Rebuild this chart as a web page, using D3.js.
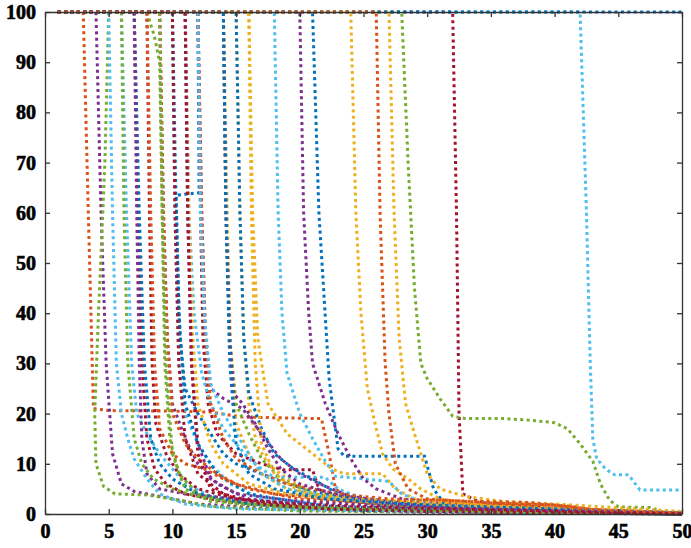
<!DOCTYPE html>
<html>
<head>
<meta charset="utf-8">
<script src="https://cdn.jsdelivr.net/npm/d3@7"></script>
<style>
  body { margin: 0; background: #fff; }
  .tick text { font-family: "Liberation Serif", serif; font-weight: bold; font-size: 20px; fill: #000; stroke: #000; stroke-width: 0.6; }
  .domain, .tick line { stroke: #333; stroke-width: 1.3; }
</style>
</head>
<body>
<script>
var width = 691, height = 548;
var margin = {top: 12, right: 9, bottom: 34, left: 45};

var xTicks = [0, 5, 10, 15, 20, 25, 30, 35, 40, 45, 50];
var yTicks = [0, 10, 20, 30, 40, 50, 60, 70, 80, 90, 100];

// MATLAB default colour order
var palette = {
  b: "#0072BD", o: "#D95319", y: "#EDB120", p: "#7E2F8E",
  g: "#77AC30", c: "#4DBEEE", r: "#A2142F"
};

// colour of each series, same order as series below
var seriesColors = [
  "r", "c", "g", "o", "p", "g", "c", "r", "r", "g", "p", "c", "b",
  "y", "y", "y", "c", "p", "b", "y", "y", "b", "p", "c", "r", "o",
  "g", "b", "c", "p", "b", "g", "y", "o", "c", "o", "p",
  "g", "y", "b", "p", "r", "r", "b", "o"
];

var series = [
  // drop at 32
  [[1,100],[32,100],[32.3,60],[32.5,20],[32.8,4],[34,2.5],[37,1.8],[40,1],[45,0.3],[50,0]],
  // drop at 42
  [[1,100],[42,100],[42.5,60],[42.8,30],[43,15],[43.3,11],[44,9],[44.7,7.8],[45.8,7.8],[46.7,4.8],[50,4.8]],
  // drop at 28, long plateau at 19
  [[1,100],[28,100],[28.5,70],[29,45],[29.5,30],[30,27],[31,23],[32,19.5],[33,19],[36,19],[38,18.7],[40,18.2],[41,17],[42,14],[43,10.5],[43.6,6],[44.3,2.8],[45,1.4],[47.5,1.3],[48.5,0.4],[50,0]],
  // drop at 3, plateau at 20
  [[1,100],[3,100],[3.4,60],[3.8,21],[5,20.6],[10,20.5],[13,20.3],[15.5,19.3],[21.7,19],[22.3,12],[22.8,5],[24,3],[30,2.2],[40,1.8],[42,1],[50,0.3]],
  [[1,100],[4,100],[4.4,60],[4.8,30],[5.3,12],[6,6],[7,4.5],[9,3.5],[12,2],[18,1],[30,0.3],[50,0]],
  [[1,100],[5,100],[4.7,70],[4.2,40],[3.9,20],[4,10],[4.6,5.5],[5.5,4],[8,3.8],[10,3],[13,1.5],[20,0.6],[50,0]],
  [[1,100],[6,100],[6.4,60],[6.8,30],[7.2,20],[8,16],[9,12],[10,9],[11,6],[13,3.5],[18,1.5],[30,0.5],[50,0]],
  [[1,100],[7,100],[7.3,60],[7.6,30],[8,15],[8.6,9],[9.5,6],[11,4],[14,2.5],[20,1.2],[35,0.3],[50,0]],
  [[1,100],[8,100],[8.2,60],[8.4,30],[8.7,18],[9.5,12],[10.5,8],[12,5],[15,3],[22,1],[50,0]],
  [[1,100],[8,100],[8.6,95],[9,90],[9.2,60],[9.4,30],[9.8,15],[10.5,8],[12,4],[15,2],[25,0.8],[50,0]],
  [[1,100],[9,100],[9.3,60],[9.6,35],[10,22],[11,15],[12,10],[13.5,6],[16,3],[22,1.2],[50,0]],
  [[1,100],[10,100],[10.2,60],[10.5,30],[11,20],[12,14],[13,10],[14.5,6],[17,3],[25,1],[50,0]],
  // drop at 12, shoulder at 63
  [[1,100],[12,100],[12.1,64],[10.3,63.5],[10.5,40],[11,22],[12,14],[13.5,8],[16,4],[22,1.5],[50,0]],
  [[1,100],[14,100],[14.3,60],[14.6,30],[15,18],[16,12],[17,8],[19,5],[23,3],[30,1.5],[50,0.2]],
  [[1,100],[15,100],[15.3,60],[15.6,35],[16,22],[16.6,14],[17.5,10],[19,7],[21,4],[26,2],[35,0.8],[50,0]],
  // plateau at 8
  [[1,100],[16,100],[16.3,60],[16.7,35],[17.5,22],[19,16],[21,12],[22.5,9],[23.5,8],[26.5,8],[27.5,5],[29,3],[35,1.5],[50,0.2]],
  [[1,100],[18,100],[18.3,60],[18.6,40],[19,28],[20,20],[21,15],[22,10.5],[22.8,7.5],[25,7],[27,6.5],[28,4],[30,2],[40,0.5],[50,0]],
  [[1,100],[20,100],[20.3,60],[20.7,40],[21,30],[22,22],[23,16],[24,11],[25,7],[26,5],[28,3],[33,1.5],[50,0.1]],
  // drop at 21, plateau at 11.5
  [[1,100],[21,100],[21.5,60],[22.3,27],[23,13],[23.5,11.5],[29.8,11.5],[30.5,5],[31.5,1.5],[40,0.5],[50,0]],
  [[1,100],[24,100],[24.4,60],[24.8,40],[25.3,25],[26,17],[26.5,12],[27.3,9],[28.5,7],[29.5,5],[31,3],[35,1.5],[50,0]],
  [[1,100],[27,100],[27.4,60],[27.8,35],[28.3,22],[29,16],[29.5,12],[30,8],[31,5],[33,3.5],[36,2.5],[40,2],[50,0.5]],
  [[1,100],[7,100],[7.4,60],[7.8,30],[8.3,15],[9,10],[10,7],[12,4],[16,2],[25,0.7],[50,0]],
  [[1,100],[7,100],[7.2,60],[7.4,30],[7.6,15],[8,8],[9,5],[11,4],[15,3],[22,1.5],[35,0.5],[50,0]],
  [[1,100],[5,100],[5.3,60],[5.6,30],[6,20],[6.5,15],[7,11],[8,7],[9,4],[11,2],[15,1],[50,0]],
  // plateau at 8.8
  [[1,100],[12,100],[12.2,60],[12.4,35],[12.8,22],[13.5,16],[15,12],[17,10],[18.7,8.8],[21,8.8],[21.5,5],[22.5,3],[26,2],[35,1],[50,0]],
  [[1,100],[8,100],[8.3,60],[8.6,30],[9,17],[10,12],[11,10],[12.5,9],[14,7],[16,5],[20,3],[30,1.5],[40,0.8],[50,0.2]],
  [[1,100],[6,100],[6.2,60],[6.5,30],[7,15],[7.6,10],[8.5,7],[10,5],[12,3.5],[16,2],[25,1],[50,0]],
  [[1,100],[10,100],[10.3,60],[10.6,35],[11,25],[12,20],[13,16],[14,12],[15,10],[17,8],[19,6],[22,4],[28,2],[40,0.5],[50,0]],
  // plateau at 7.3
  [[1,100],[11,100],[11.3,60],[11.7,40],[12.3,28],[13,22],[14,17],[15,14],[16,11],[17,9],[18,7.3],[22,7.3],[23,5],[25,3],[30,1.5],[50,0]],
  [[1,100],[12,100],[12.3,60],[12.6,35],[13,25],[14,23],[15.5,21],[17,16],[18.5,11],[20,8],[22,5.5],[24,3.5],[30,1.5],[50,0]],
  [[1,100],[15,100],[15.3,60],[15.6,35],[16,24],[17,17],[18,12],[19.5,9],[21,7],[23,4],[27,2],[35,1],[50,0]],
  [[1,100],[14,100],[14.2,60],[14.5,35],[15,22],[16,16],[17,11],[18.5,7],[21,4],[26,2],[35,0.8],[50,0]],
  [[1,100],[11,100],[11.3,60],[11.6,35],[12,22],[13,14],[14,10],[16,6],[19,4],[25,2.5],[32,1.5],[40,0.8],[50,0.3]],
  [[1,100],[12,100],[12.3,60],[12.6,35],[13,22],[14,15],[15,11],[17,8],[19,6],[23,4],[27,3],[34,2.5],[38,2.3],[41,1.5],[44,0.5],[50,0.2]],
  [[1,100],[12,100],[12.2,60],[12.5,40],[13,26],[14,20],[15,16],[16,12],[17,8],[19,5],[23,3],[30,1.5],[50,0.2]],
  [[1,100],[9,100],[9.3,60],[9.6,35],[10,20],[11,14],[12,11],[13.5,8],[15,6],[18,4],[24,2.5],[32,1.8],[41,1.6],[44,0.5],[50,0.2]],
  [[1,100],[14,100],[14.2,60],[14.5,35],[14.8,24],[15.5,22],[16.5,18],[17.5,13],[18.5,9],[20,6],[24,3],[32,1],[50,0]],
  [[1,100],[9,100],[9.2,60],[9.5,30],[10,12],[11,5],[13,2.5],[18,1.5],[26,1],[36,0.5],[50,0]],
  [[1,100],[16,100],[16.2,60],[16.5,30],[17,14],[18,8],[20,4.5],[24,3],[30,2.3],[37,1.5],[50,0.2]],
  [[1,100],[14,100],[14.2,60],[14.5,30],[15,14],[16,8],[18,5],[22,3],[30,1.8],[40,1],[50,0.2]],
  [[1,100],[11,100],[11.2,60],[11.5,30],[12,14],[13,7],[15,4],[20,2.5],[28,1.5],[38,0.8],[50,0.1]],
  [[1,100],[11,100],[11.2,60],[11.5,30],[12,12],[13,5],[15,3],[20,2],[28,1.2],[40,0.6],[50,0]],
  [[1,100],[10,100],[10.2,60],[10.5,30],[11,15],[12,8],[14,4],[17,2],[22,1],[30,0.5],[40,0.2],[50,0]],
  // never drops
  [[1,100],[50,100]],
  // drop at 26, drawn last
  [[1,100],[26,100],[26.3,60],[26.7,30],[27,20],[27.5,10],[28.5,5],[30,3],[35,2.2],[40,1.8],[42,1],[50,0.2]]
];

var svg = d3.select("body").append("svg")
    .attr("width", width)
    .attr("height", height);

var x = d3.scaleLinear().domain([0, 50]).range([margin.left, width - margin.right]);
var y = d3.scaleLinear().domain([0, 100]).range([height - margin.bottom, margin.top]);

var line = d3.line()
    .x(function(d) { return x(d[0]); })
    .y(function(d) { return y(d[1]); });

svg.append("g")
  .selectAll("path")
    .data(series)
  .enter().append("path")
    .attr("d", line)
    .attr("fill", "none")
    .attr("stroke", function(d, i) { return palette[seriesColors[i]]; })
    .attr("stroke-width", 3)
    .attr("stroke-dasharray", "3 3.4");

// axes, ticks pointing inwards on all four sides
svg.append("g")
    .attr("transform", "translate(0," + y(0) + ")")
    .call(d3.axisBottom(x).tickValues(xTicks).tickSizeInner(-5).tickSizeOuter(0).tickPadding(10));

svg.append("g")
    .attr("transform", "translate(" + x(0) + ",0)")
    .call(d3.axisLeft(y).tickValues(yTicks).tickSizeInner(-5).tickSizeOuter(0).tickPadding(9));

svg.append("g")
    .attr("transform", "translate(0," + y(100) + ")")
    .call(d3.axisTop(x).tickValues(xTicks).tickSizeInner(-5).tickSizeOuter(0).tickFormat(""));

svg.append("g")
    .attr("transform", "translate(" + x(50) + ",0)")
    .call(d3.axisRight(y).tickValues(yTicks).tickSizeInner(-5).tickSizeOuter(0).tickFormat(""));
</script>
</body>
</html>
